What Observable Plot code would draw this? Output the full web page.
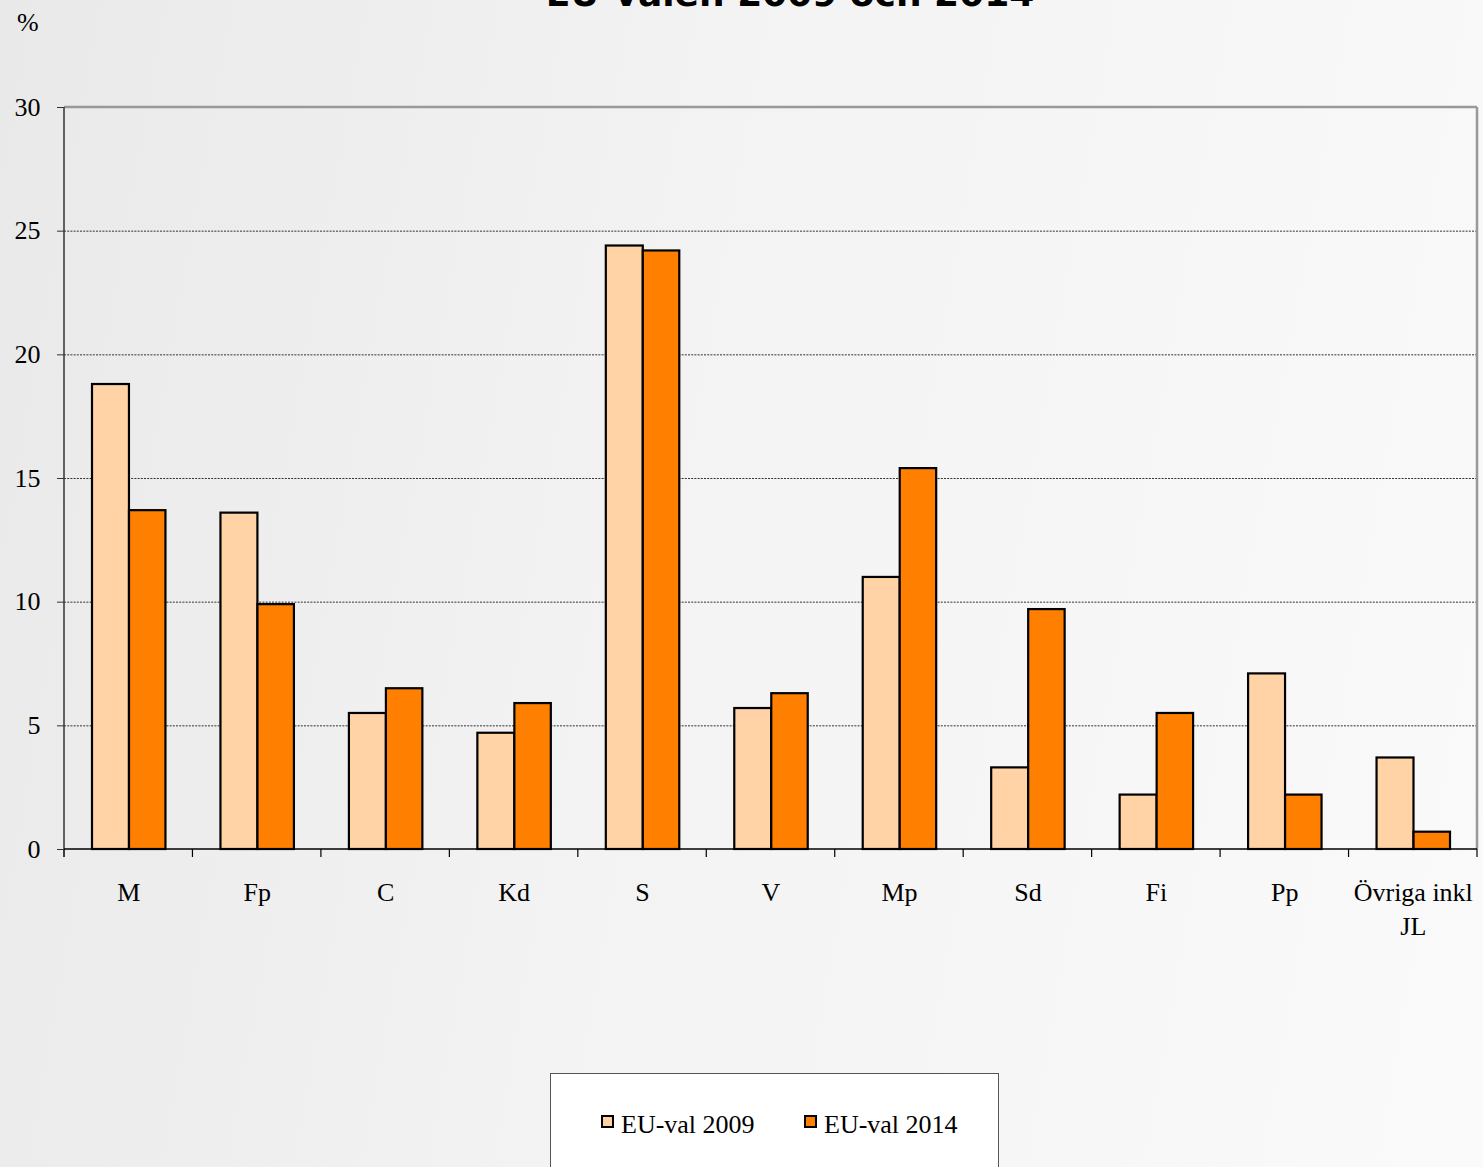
<!DOCTYPE html>
<html>
<head>
<meta charset="utf-8">
<script src="https://cdn.jsdelivr.net/npm/d3@7"></script>
<script src="https://cdn.jsdelivr.net/npm/@observablehq/plot@0.6"></script>
<style>
html, body { margin: 0; padding: 0; width: 1483px; height: 1167px; overflow: hidden; }
body {
  position: relative;
  background: linear-gradient(100deg, #e9e9e9 0%, #f3f3f3 45%, #fafafa 100%);
  font-family: "Liberation Serif", "Times New Roman", serif;
  color: #000;
}
#title {
  position: absolute; left: 0; width: 1580px; top: -24px;
  text-align: center; font: bold 36px/36px "DejaVu Sans", Verdana, sans-serif;
  white-space: nowrap;
}
#unit { position: absolute; left: 17px; top: 10px; font-size: 26px; line-height: 26px; }
#chart { position: absolute; left: 0; top: 0; }
#legend {
  position: absolute; left: 550px; top: 1073px; width: 447px; height: 140px;
  border: 1px solid #555; background: #ffffff;
}
.item { position: absolute; top: 38px; font-size: 26px; line-height: 26px; white-space: nowrap; }
.sw { position: absolute; left: 0; top: 3px; width: 9px; height: 9px; border: 2px solid #000; box-sizing: content-box; }
.lbl { position: absolute; left: 20px; top: 0; }
</style>
</head>
<body>
<div id="title">EU-valen 2009 och 2014</div>
<div id="unit">%</div>
<div id="chart"></div>
<div id="legend"></div>
<script>
const parties = ["M", "Fp", "C", "Kd", "S", "V", "Mp", "Sd", "Fi", "Pp", "Övriga inkl\nJL"];
const series = ["EU-val 2009", "EU-val 2014"];
const val2009 = [18.8, 13.6, 5.5, 4.7, 24.4, 5.7, 11.0, 3.3, 2.2, 7.1, 3.7];
const val2014 = [13.7, 9.9, 6.5, 5.9, 24.2, 6.3, 15.4, 9.7, 5.5, 2.2, 0.7];
const colors = ["#FFD3A5", "#FF8000"];
const yTicks = [0, 5, 10, 15, 20, 25, 30];

const data2009 = parties.map((p, i) => ({party: p, series: series[0], value: val2009[i]}));
const data2014 = parties.map((p, i) => ({party: p, series: series[1], value: val2014[i]}));

function frameMark(index, scales, values, dims) {
  const {width: w, height: h, marginLeft: l, marginRight: r, marginTop: t, marginBottom: b} = dims;
  const x = scales.x;
  const bw = x(parties[1]) - x(parties[0]);
  const y0 = h - b;
  const g = d3.create("svg:g");
  // separator ticks between categories
  const edges = parties.map(p => x(p)).concat([x(parties[parties.length - 1]) + bw]);
  g.selectAll("line.sep").data(edges).join("line")
    .attr("x1", d => d).attr("x2", d => d)
    .attr("y1", y0).attr("y2", y0 + 8)
    .attr("stroke", "#000").attr("stroke-width", 1.2);
  // top and right (gray)
  g.append("line").attr("x1", l).attr("x2", w - r).attr("y1", t).attr("y2", t)
    .attr("stroke", "#999").attr("stroke-width", 2.5);
  g.append("line").attr("x1", w - r).attr("x2", w - r).attr("y1", t).attr("y2", y0)
    .attr("stroke", "#999").attr("stroke-width", 2.5);
  // left axis line
  g.append("line").attr("x1", l).attr("x2", l).attr("y1", t).attr("y2", y0 + 8)
    .attr("stroke", "#333").attr("stroke-width", 1.5);
  // bottom axis line
  g.append("line").attr("x1", l).attr("x2", w - r).attr("y1", y0).attr("y2", y0)
    .attr("stroke", "#000").attr("stroke-width", 1.5);
  return g.node();
}

const chart = Plot.plot({
  width: 1483,
  height: 960,
  marginLeft: 64,
  marginRight: 6,
  marginTop: 107,
  marginBottom: 111,
  style: {background: "transparent", fontFamily: "'Liberation Serif', 'Times New Roman', serif", fontSize: "26px", color: "#000", overflow: "visible"},
  x: {domain: parties, padding: 0, round: false, label: null},
  y: {domain: [0, 30], ticks: yTicks, label: null},
  marks: [
    Plot.ruleY(yTicks.filter(d => d > 0 && d < 30), {stroke: "#333", strokeWidth: 1, strokeDasharray: "2,1.2"}),
    Plot.axisY({ticks: yTicks, tickSize: 7, tickPadding: 17, stroke: "#333", fontSize: 26, label: null}),
    Plot.axisX({tickSize: 0, tickPadding: 28, fontSize: 26, lineHeight: 1.3, label: null}),
    Plot.barY(data2009, {x: "party", y: "value", fill: colors[0], stroke: "#000", strokeWidth: 2.2, insetLeft: 28, insetRight: 63.5}),
    Plot.barY(data2014, {x: "party", y: "value", fill: colors[1], stroke: "#000", strokeWidth: 2.2, insetLeft: 65, insetRight: 27}),
    frameMark
  ]
});
document.getElementById("chart").appendChild(chart);

// legend
const legendLeft = [50, 253];
const legend = d3.select("#legend");
series.forEach((s, i) => {
  const it = legend.append("div").attr("class", "item").style("left", legendLeft[i] + "px");
  it.append("div").attr("class", "sw").style("background", colors[i]);
  it.append("div").attr("class", "lbl").text(s);
});
</script>
</body>
</html>
